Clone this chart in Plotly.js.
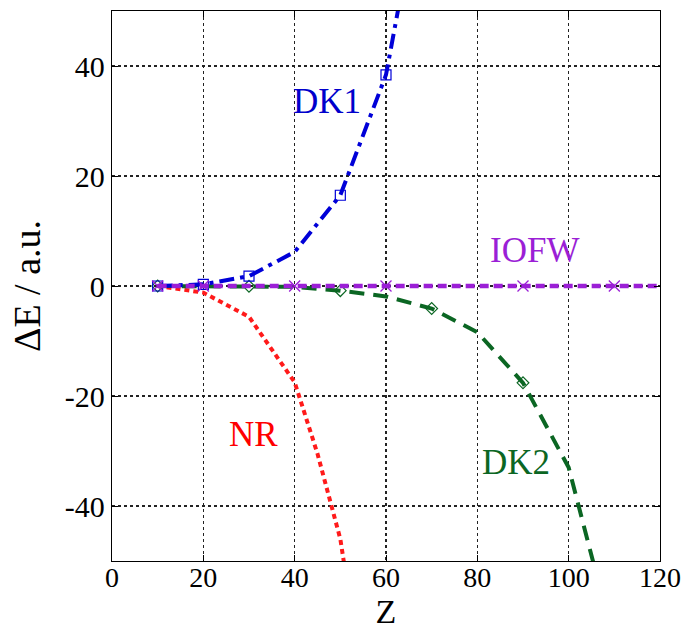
<!DOCTYPE html>
<html>
<head>
<meta charset="utf-8">
<script src="https://cdn.plot.ly/plotly-3.0.1.min.js"></script>
<style>html,body{margin:0;padding:0;background:#fff;}#chart{width:698px;height:632px;}</style>
</head>
<body>
<div id="chart"></div>
<script>
// Data
const zDK1 = [10, 20, 30, 40, 50, 60, 70];
const eDK1 = [0, 0.3, 1.8, 6.2, 16.5, 38.4, 83];
const zDK1Markers = [10, 20, 30, 50, 60];

const zNR = [10, 20, 30, 40, 45, 50, 55];
const eNR = [0, -1.2, -5.6, -17.5, -30.5, -46, -73];

const zDK2 = [10, 20, 30, 40, 50, 60, 70, 80, 90, 100, 110];
const eDK2 = [0, 0, -0.05, -0.15, -0.85, -1.9, -4.1, -8.4, -17.6, -33, -65];
const zDK2Markers = [10, 30, 50, 70, 90];

const zIOFW = [10, 20, 30, 40, 50, 60, 70, 80, 90, 100, 110, 120];
const eIOFW = [0, 0, 0, 0, 0, 0, 0, 0, 0, 0, 0, 0];
const zIOFWMarkers = [10, 20, 40, 60, 90, 110];

const xTicks = [0, 20, 40, 60, 80, 100, 120];
const yTicks = [-40, -20, 0, 20, 40];

const labels = [
  {text: 'DK1', x: 47, y: 33.5, color: '#0000cc'},
  {text: 'IOFW', x: 92.5, y: 6.5, color: '#9b1fd6'},
  {text: 'NR', x: 31, y: -27, color: '#ff0000'},
  {text: 'DK2', x: 88.5, y: -32, color: '#0b6623'}
];

function pick(zs, es, sub) { return sub.map(z => es[zs.indexOf(z)]); }

const C_DK1 = '#0000d8', C_NR = '#ff1a1a', C_DK2 = '#0b6623', C_IOFW = '#9b1fd6';

const traces = [
  {x: zNR, y: eNR, mode: 'lines', line: {color: C_NR, width: 4, dash: '5px,4px'}, hoverinfo: 'skip'},
  {x: zDK2, y: eDK2, mode: 'lines', line: {color: C_DK2, width: 4, dash: '15px,9px'}, hoverinfo: 'skip'},
  {x: zDK2Markers, y: pick(zDK2, eDK2, zDK2Markers), mode: 'markers',
   marker: {symbol: 'diamond-open', size: 9, color: C_DK2, line: {width: 1.2}}, hoverinfo: 'skip'},
  {x: zDK1, y: eDK1, mode: 'lines', line: {color: C_DK1, width: 4, dash: '15px,6px,4px,6px'}, hoverinfo: 'skip'},
  {x: zDK1Markers, y: pick(zDK1, eDK1, zDK1Markers), mode: 'markers',
   marker: {symbol: 'square-open', size: 10, color: C_DK1, line: {width: 1.2}}, hoverinfo: 'skip'},
  {x: zIOFW, y: eIOFW, mode: 'lines', line: {color: C_IOFW, width: 4.5, dash: '9px,5px'}, hoverinfo: 'skip'},
  {x: zIOFWMarkers, y: pick(zIOFW, eIOFW, zIOFWMarkers), mode: 'markers',
   marker: {symbol: 'x-thin-open', size: 11, color: C_IOFW, line: {width: 1.3, color: C_IOFW}}, hoverinfo: 'skip'}
];

const fontFam = 'Liberation Serif';

const layout = {
  width: 698, height: 632,
  margin: {l: 112, r: 38, t: 11, b: 71},
  paper_bgcolor: '#fff', plot_bgcolor: '#fff',
  showlegend: false,
  font: {family: fontFam, size: 28},
  xaxis: {
    range: [0, 120], tickvals: xTicks, ticktext: xTicks.map(String),
    showgrid: true, gridcolor: '#222', griddash: 'dot', gridwidth: 1.2,
    zeroline: false, showline: true, linecolor: '#000', linewidth: 1.2, mirror: 'ticks',
    ticks: 'inside', ticklen: 6, tickcolor: '#000', ticklabelstandoff: -9,
    tickfont: {family: fontFam, size: 28, color: '#000'},
    title: {text: 'Z', font: {family: fontFam, size: 34, color: '#000'}, standoff: 2}
  },
  yaxis: {
    range: [-50, 50], tickvals: yTicks, ticktext: yTicks.map(String),
    showgrid: true, gridcolor: '#222', griddash: 'dot', gridwidth: 1.2,
    zeroline: false, showline: true, linecolor: '#000', linewidth: 1.2, mirror: 'ticks',
    ticks: 'inside', ticklen: 6, tickcolor: '#000',
    tickfont: {family: fontFam, size: 30, color: '#000'},
    title: {text: 'ΔE / a.u.', font: {family: fontFam, size: 38, color: '#000'}, standoff: 12}
  },
  annotations: labels.map(l => ({
    x: l.x, y: l.y, xref: 'x', yref: 'y', text: l.text, showarrow: false,
    font: {family: fontFam, size: 35, color: l.color}
  }))
};

Plotly.newPlot('chart', traces, layout, {staticPlot: true, displayModeBar: false});
</script>
</body>
</html>
